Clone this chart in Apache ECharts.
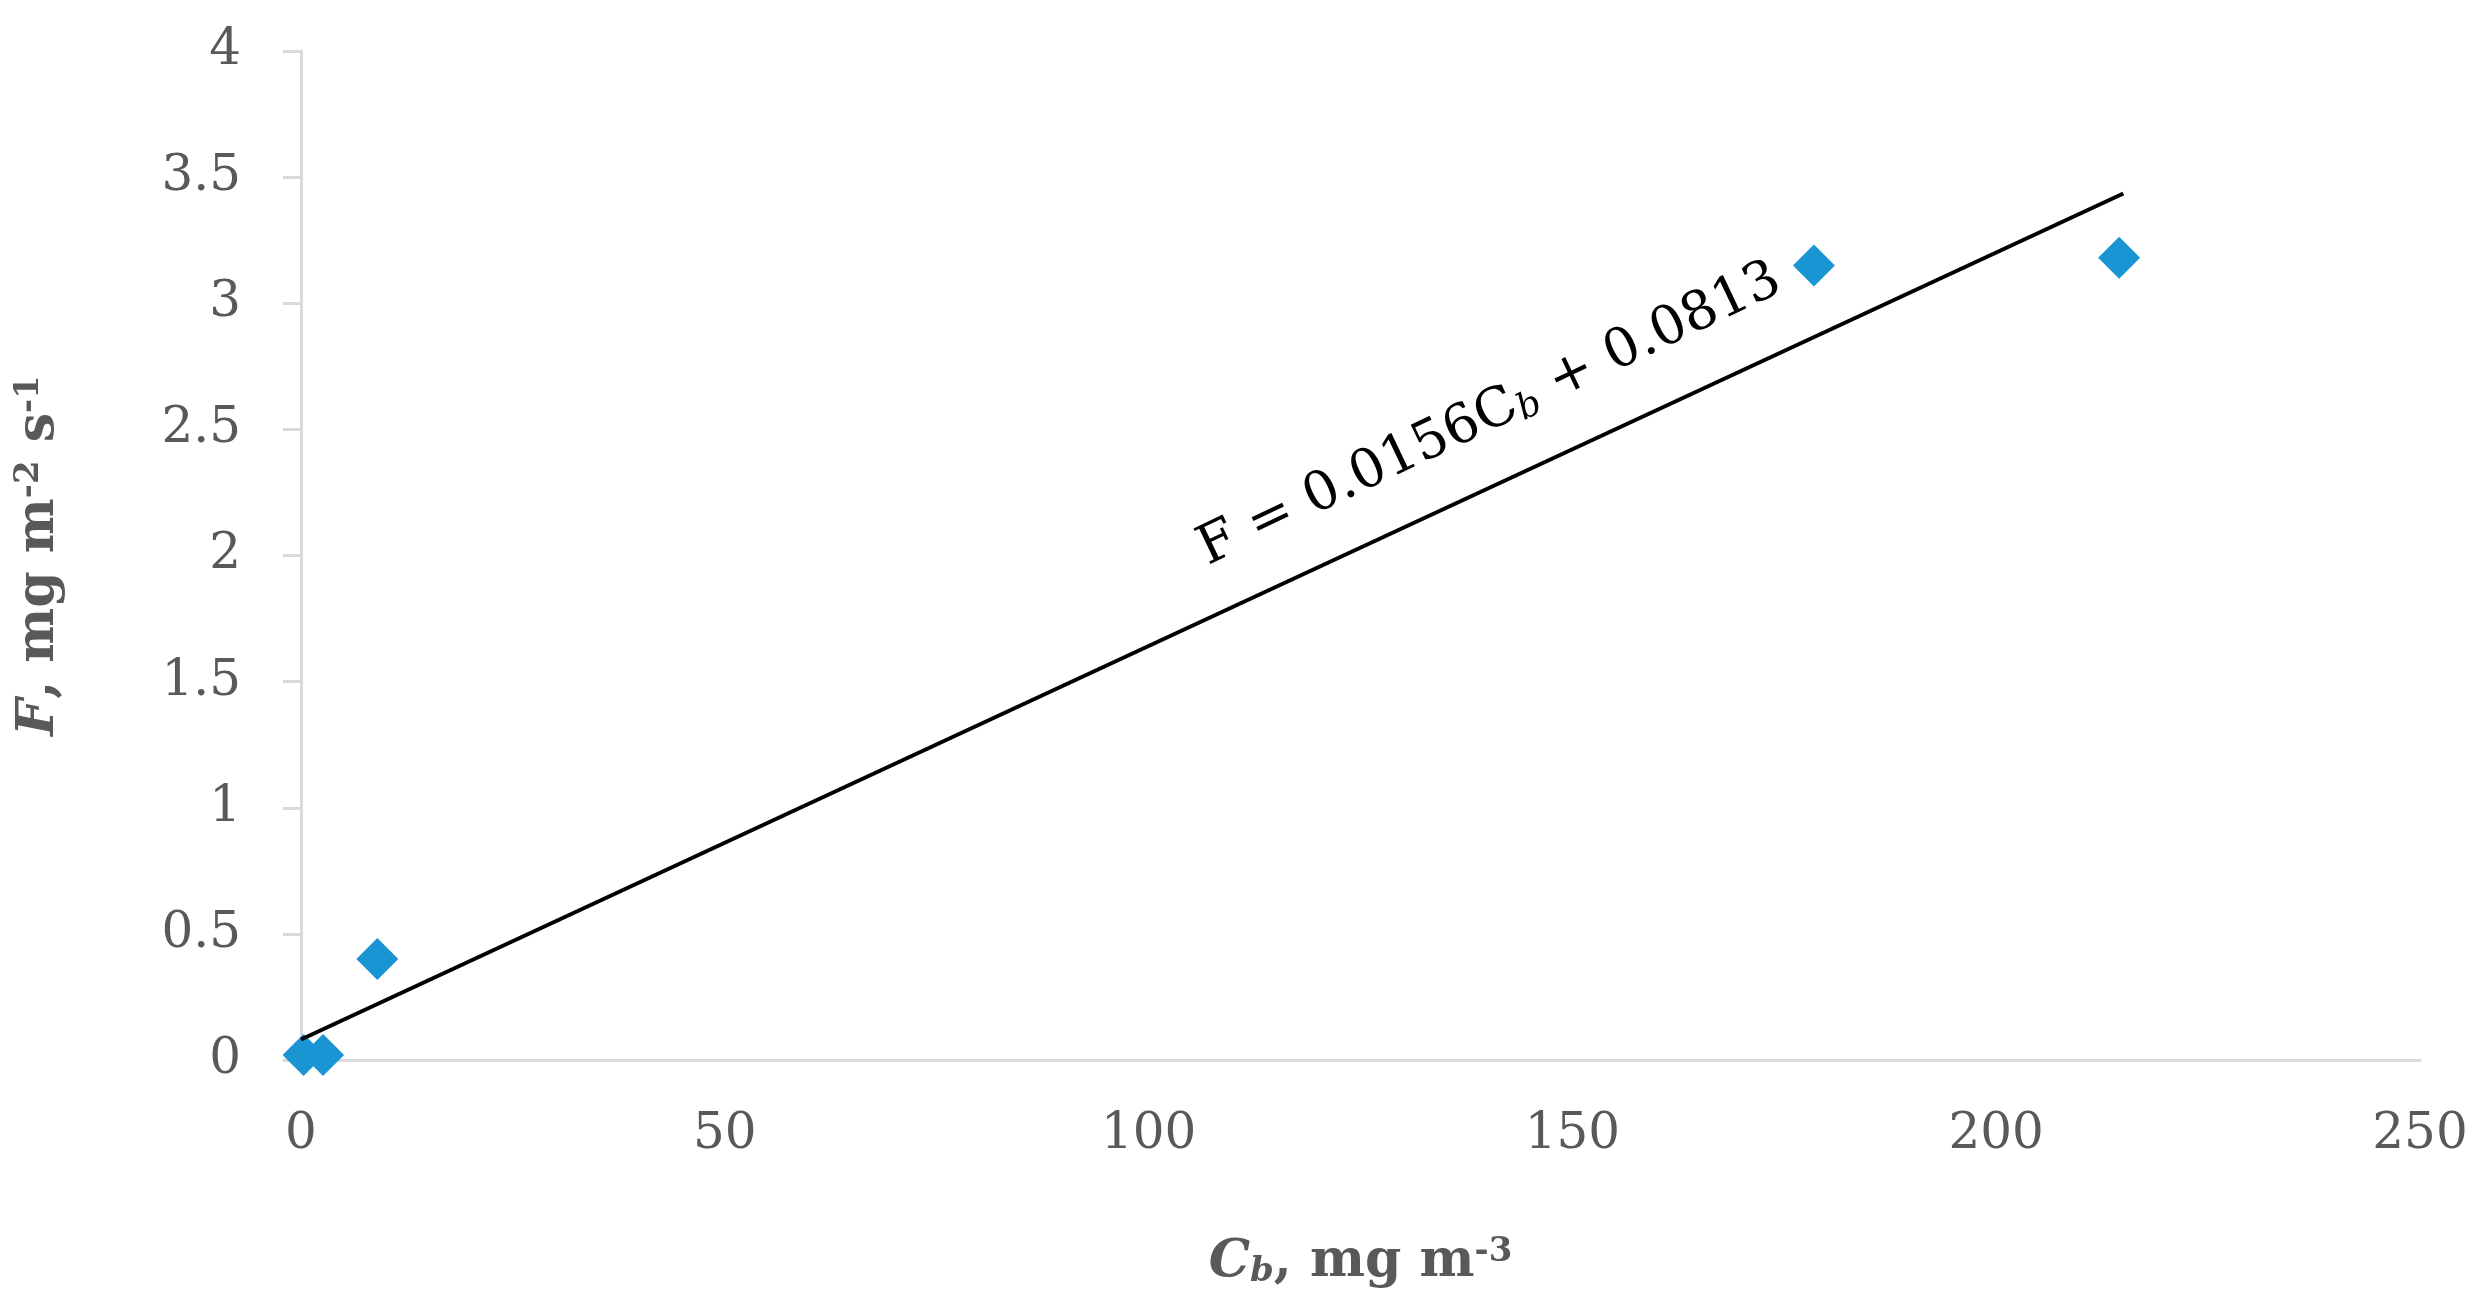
<!DOCTYPE html>
<html>
<head>
<meta charset="utf-8">
<script src="https://cdn.jsdelivr.net/npm/echarts@6/dist/echarts.min.js"></script>
<style>html,body{margin:0;background:#fff}#chart{width:2488px;height:1301px}</style>
</head>
<body>
<div id="chart"></div>
<script>
// measured points (Cb, F)
const cbValues = [0.3, 2.6, 9, 178.5, 214.5]
const fluxValues = [0.02, 0.02, 0.40, 3.15, 3.18]
// fitted line F = 0.0156 Cb + 0.0813
const fitSlope = 0.0156
const fitIntercept = 0.0813
const fitRange = [0, 215]
const xTicks = [0, 50, 100, 150, 200, 250]
const yTicks = [0, 0.5, 1, 1.5, 2, 2.5, 3, 3.5, 4]

const serif = 'DejaVu Serif'
const grey = '#595959'
const chart = echarts.init(document.getElementById('chart'))

chart.setOption({
  animation: false,
  grid: { left: 301, right: 68, top: 51, bottom: 241 },
  xAxis: {
    type: 'value', min: 0, max: 250, interval: 50,
    axisLine: { lineStyle: { color: '#d9d9d9', width: 3 } },
    axisTick: { show: false },
    splitLine: { show: false },
    axisLabel: { color: grey, fontFamily: serif, fontSize: 50, fontWeight: 300, margin: 50 },
    name: '{i|C}{sub|b}{b|, mg m}{sup|-3}',
    nameLocation: 'middle', nameGap: 175,
    nameTextStyle: {
      rich: {
        i: { fontFamily: serif, fontSize: 52, fontWeight: 'bold', fontStyle: 'italic', color: grey },
        sub: { fontFamily: serif, fontSize: 34, fontWeight: 'bold', fontStyle: 'italic', color: grey, verticalAlign: 'bottom', padding: [18, 0, 0, 0] },
        b: { fontFamily: serif, fontSize: 52, fontWeight: 'bold', color: grey },
        sup: { fontFamily: serif, fontSize: 34, fontWeight: 'bold', color: grey, verticalAlign: 'top', padding: [0, 0, 20, 0] }
      }
    }
  },
  yAxis: {
    type: 'value', min: 0, max: 4, interval: 0.5,
    axisLine: { show: true, lineStyle: { color: '#d9d9d9', width: 3 } },
    axisTick: { show: true, length: 18, inside: false, lineStyle: { color: '#d9d9d9', width: 3 } },
    splitLine: { show: false },
    axisLabel: { color: grey, fontFamily: serif, fontSize: 50, margin: 60 },
    name: '{i|F}{b|, mg m}{sup|-2}{b| s}{sup|-1}',
    nameLocation: 'middle', nameGap: 235, nameRotate: 90,
    nameTextStyle: {
      rich: {
        i: { fontFamily: serif, fontSize: 52, fontWeight: 'bold', fontStyle: 'italic', color: grey },
        b: { fontFamily: serif, fontSize: 52, fontWeight: 'bold', color: grey },
        sup: { fontFamily: serif, fontSize: 34, fontWeight: 'bold', color: grey, verticalAlign: 'top', padding: [0, 0, 20, 0] }
      }
    }
  },
  series: [
    {
      type: 'line',
      data: fitRange.map(x => [x, fitSlope * x + fitIntercept]),
      symbol: 'none',
      lineStyle: { color: '#000', width: 4 },
      z: 3
    },
    {
      type: 'scatter',
      data: cbValues.map((x, i) => [x, fluxValues[i]]),
      symbol: 'diamond',
      symbolSize: [42, 42],
      itemStyle: { color: '#1a95d4', opacity: 1 },
      z: 2
    }
  ],
  graphic: [{
    type: 'text',
    x: 1490, y: 415,
    rotation: 0.445,
    style: {
      text: '{t|F = 0.0156C}{s|b}{t| + 0.0813}',
      align: 'center', verticalAlign: 'middle',
      rich: {
        t: { fontFamily: serif, fontSize: 54, color: grey },
        s: { fontFamily: serif, fontSize: 36, fontStyle: 'italic', color: grey, verticalAlign: 'bottom', padding: [20, 0, 0, 0] }
      }
    }
  }]
})
</script>
</body>
</html>
